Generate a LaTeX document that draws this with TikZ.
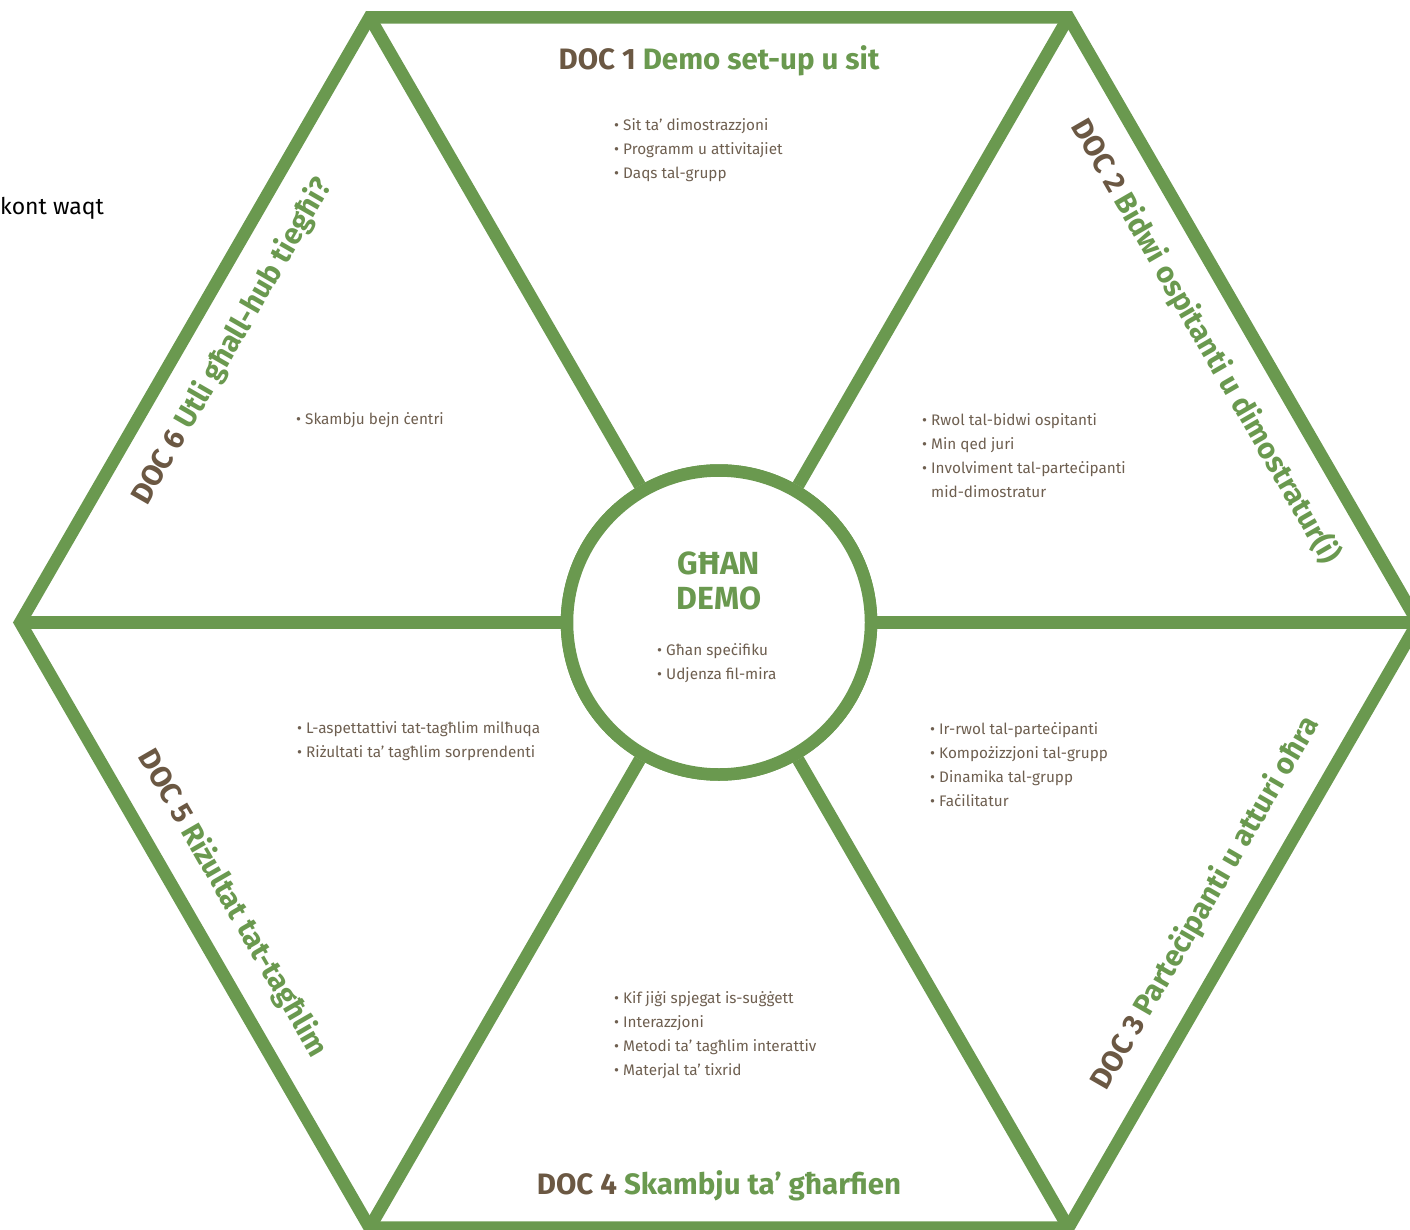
\documentclass[tikz,border=0pt]{standalone}
\usepackage{fontspec}
\setmainfont{Fira Sans}
\definecolor{hexgreen}{RGB}{106,153,79}
\definecolor{docbrown}{RGB}{107,88,67}
\definecolor{txtbrown}{RGB}{110,95,80}
\begin{document}
\begin{tikzpicture}[x=1pt,y=-1pt,
  frame/.style={draw=hexgreen, line width=12.5pt, line join=miter},
  spoke/.style={draw=hexgreen, line width=12.5pt},
  hubring/.style={circle, draw=hexgreen, line width=12.5pt, fill=white, minimum size=304pt, inner sep=0pt},
  doctitle/.style={font=\bfseries\fontsize{29.5}{34}\selectfont, inner sep=0pt, anchor=center},
  bullets/.style={font=\fontsize{15.3}{24}\selectfont, text=txtbrown, align=left, anchor=west, inner sep=0pt},
  hubtitle/.style={font=\bfseries\fontsize{32}{35}\selectfont, text=hexgreen, align=center, inner sep=0pt, anchor=center}]
\useasboundingbox (0,0) rectangle (1410,1230);
\clip (0,0) rectangle (1410,1230);
% vertices
\coordinate (vtl) at (369.6,17.3);
\coordinate (vtr) at (1068.4,17.3);
\coordinate (vr) at (1417.8,622.5);
\coordinate (vbr) at (1068.4,1227.7);
\coordinate (vbl) at (369.6,1227.7);
\coordinate (vl) at (20.2,622.5);
\node[hubring] (hub) at (719,622.5) {};
% spokes
\foreach \v in {vtl,vtr,vr,vbr,vbl,vl} {\draw[spoke] (hub) -- (\v);}
% hexagon
\draw[frame] (vtl) -- (vtr) -- (vr) -- (vbr) -- (vbl) -- (vl) -- cycle;
\node[hubring] (hubtop) at (719,622.5) {};
% titles
\node[doctitle] (t1) at (719,60.5) {\textcolor{docbrown}{DOC 1} \textcolor{hexgreen}{Demo set-up u sit}};
\node[doctitle, rotate=-60] (t2) at (1205.7,341.5) {\textcolor{docbrown}{DOC 2} \textcolor{hexgreen}{Bidwi ospitanti u dimostratur(i)}};
\node[doctitle, rotate=60] (t3) at (1205.7,903.5) {\textcolor{docbrown}{DOC 3} \textcolor{hexgreen}{Parteċipanti u atturi oħra}};
\node[doctitle] (t4) at (719,1186) {\textcolor{docbrown}{DOC 4} \textcolor{hexgreen}{Skambju ta’ għarfien}};
\node[doctitle, rotate=-60] (t5) at (232.3,903.5) {\textcolor{docbrown}{DOC 5} \textcolor{hexgreen}{Riżultat tat-tagħlim}};
\node[doctitle, rotate=60] (t6) at (232.3,341.5) {\textcolor{docbrown}{DOC 6} \textcolor{hexgreen}{Utli għall-hub tiegħi?}};
% hub text
\node[hubtitle] (ht) at (719,580.5) {GĦAN\\DEMO};
\node[bullets] (l0) at (657,663) {• Għan speċifiku\\• Udjenza fil-mira};
% lists
\node[bullets] (l1) at (614,150) {• Sit ta’ dimostrazzjoni\\• Programm u attivitajiet\\• Daqs tal-grupp};
\node[bullets] (l2) at (922,456) {• Rwol tal-bidwi ospitanti\\• Min qed juri\\• Involviment tal-parteċipanti\\\hspace*{9pt}mid-dimostratur};
\node[bullets] (l3) at (930,765) {• Ir-rwol tal-parteċipanti\\• Kompożizzjoni tal-grupp\\• Dinamika tal-grupp\\• Faċilitatur};
\node[bullets] (l4) at (614,1035) {• Kif jiġi spjegat is-suġġett\\• Interazzjoni\\• Metodi ta’ tagħlim interattiv\\• Materjal ta’ tixrid};
\node[bullets] (l5) at (297,741) {• L-aspettattivi tat-tagħlim milħuqa\\• Riżultati ta’ tagħlim sorprendenti};
\node[bullets] (l6) at (296,420) {• Skambju bejn ċentri};
% stray text
\node[font=\fontsize{23}{26}\selectfont, text=black, anchor=west, inner sep=0pt] (kw) at (0,208) {kont waqt};
\end{tikzpicture}
\end{document}
